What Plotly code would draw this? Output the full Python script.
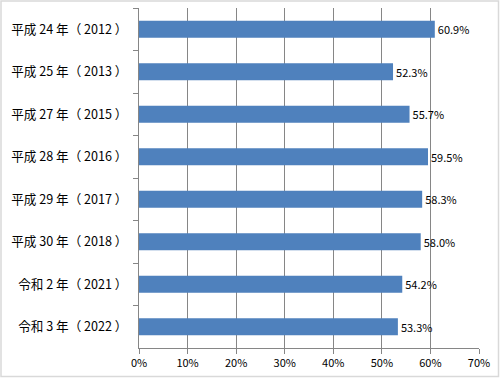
import plotly.graph_objects as go

categories = ["平成 24 年（ 2012 ）", "平成 25 年（ 2013 ）", "平成 27 年（ 2015 ）", "平成 28 年（ 2016 ）",
              "平成 29 年（ 2017 ）", "平成 30 年（ 2018 ）", "令和 2 年（ 2021 ）", "令和 3 年（ 2022 ）"]
values = [60.9, 52.3, 55.7, 59.5, 58.3, 58.0, 54.2, 53.3]
tick_vals = [0, 10, 20, 30, 40, 50, 60, 70]
tick_text = ["0%", "10%", "20%", "30%", "40%", "50%", "60%", "70%"]

FONT = "Noto Sans CJK JP, Noto Sans, sans-serif"
GRID = "#868686"

fig = go.Figure(go.Bar(
    x=values, y=categories, orientation="h",
    marker=dict(color="#4F81BD", line=dict(width=0)),
    width=0.4,
    text=[f"{v:.1f}%" for v in values], textposition="outside",
    textfont=dict(size=11, color="#000000", family=FONT),
    cliponaxis=False,
))

W, H = 500, 378
ml, mr, mt, mb = 139, 21, 8, 30
pw, ph = W - ml - mr, H - mt - mb

fig.update_layout(
    width=W, height=H,
    margin=dict(l=ml, r=mr, t=mt, b=mb, autoexpand=False),
    paper_bgcolor="white", plot_bgcolor="white",
    showlegend=False,
    font=dict(family=FONT, size=11, color="#000000"),
    xaxis=dict(range=[0, 70], tickvals=tick_vals, ticktext=tick_text,
               showgrid=True, gridcolor=GRID, gridwidth=1,
               showline=True, linecolor=GRID, linewidth=1,
               ticks="outside", ticklen=5, tickcolor=GRID,
               zeroline=False, tickfont=dict(size=11), automargin=False),
    yaxis=dict(autorange="reversed", type="category",
               showline=True, linecolor=GRID, linewidth=1,
               ticks="outside", ticklen=5, tickcolor=GRID, tickson="boundaries",
               showgrid=False, ticklabelstandoff=8, tickfont=dict(size=12.6),
               automargin=False),
    shapes=[dict(type="rect", xref="paper", yref="paper",
                 x0=-(ml - 1) / pw, x1=1 + (mr - 1.5) / pw,
                 y0=-(mb - 1.5) / ph, y1=1 + (mt - 1) / ph,
                 line=dict(color="#D9D9D9", width=1.5), layer="below")],
)

fig.write_html("out.html", config={"displayModeBar": False},
               post_script="document.body.style.margin='0';document.body.style.overflow='hidden';")
